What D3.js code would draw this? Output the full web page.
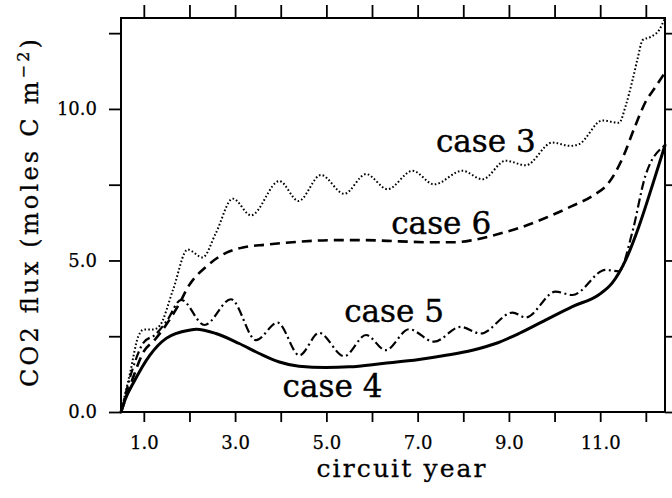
<!DOCTYPE html>
<html><head><meta charset="utf-8">
<script src="https://cdn.jsdelivr.net/npm/d3@7"></script>
<style>html,body{margin:0;padding:0;background:#fff;}svg{display:block;}</style>
</head><body>
<script>
// ---- data ----
const xTicks = [1,2,3,4,5,6,7,8,9,10,11,12];
const yTicks = [0,2.5,5,7.5,10,12.5];
const caseNames = ["case 3","case 6","case 5","case 4"];
const case3 = [[0.5,0],[0.7,1.3],[0.88,2.5],[1.0,2.72],[1.2,2.72],[1.35,2.85],[1.64,4.03],[1.96,5.36],[2.29,5.10],[2.58,5.91],[2.95,7.04],[3.35,6.49],[3.97,7.62],[4.39,6.96],[4.88,7.82],[5.39,7.20],[5.87,7.85],[6.34,7.35],[6.89,7.96],[7.36,7.51],[7.98,7.96],[8.42,7.68],[8.93,8.29],[9.37,8.14],[9.95,8.89],[10.35,8.78],[10.54,8.84],[11.05,9.62],[11.41,9.54],[11.56,10.11],[11.7,10.9],[11.82,11.66],[11.93,12.27],[12.11,12.38],[12.29,12.6],[12.42,13.0]];
const case6 = [[0.5,0],[0.72,0.95],[1.0,2.0],[1.25,2.4],[1.5,2.9],[1.75,3.5],[2.0,4.2],[2.37,4.8],[2.8,5.25],[3.17,5.43],[3.68,5.52],[4.41,5.62],[5.14,5.67],[5.87,5.67],[6.6,5.63],[7.3,5.6],[7.8,5.6],[8.2,5.67],[8.71,5.85],[9.22,6.07],[9.81,6.41],[10.39,6.8],[10.83,7.13],[11.19,7.57],[11.48,8.34],[11.77,9.45],[11.99,10.22],[12.2,10.7],[12.42,11.2]];
const case5 = [[0.5,0],[0.75,1.4],[1.0,2.3],[1.25,2.55],[1.5,3.0],[1.82,3.7],[2.33,2.87],[2.91,3.72],[3.46,2.37],[3.93,2.95],[4.41,1.87],[4.84,2.61],[5.39,1.84],[5.87,2.54],[6.3,2.04],[6.81,2.73],[7.36,2.32],[7.94,2.81],[8.38,2.59],[9.08,3.28],[9.37,3.12],[10.02,3.97],[10.39,3.86],[11.12,4.69],[11.41,4.64],[11.7,5.91],[11.99,7.79],[12.42,8.8]];
const case4 = [[0.5,0],[0.6,0.45],[0.76,0.93],[1.13,1.87],[1.49,2.43],[2.0,2.7],[2.15,2.73],[2.58,2.59],[3.09,2.26],[3.53,1.93],[3.97,1.65],[4.4,1.51],[4.99,1.47],[5.5,1.49],[6.23,1.6],[7.03,1.73],[7.62,1.87],[8.2,2.04],[8.71,2.26],[9.22,2.59],[9.81,3.04],[10.39,3.48],[10.97,3.87],[11.26,4.25],[11.56,5.02],[11.85,6.13],[12.14,7.46],[12.42,8.8]];
const labelAt = [[7.40,8.58],[6.42,5.86],[5.39,2.97],[4.04,0.51]];

const W = 672, H = 498;
const svg = d3.select("body").append("svg").attr("width", W).attr("height", H);
const x = d3.scaleLinear([0.5, 12.42], [121, 665]);
const y = d3.scaleLinear([0, 13], [412, 18]);
const FONT = "'DejaVu Serif', serif";

// axes
const fmt = d => (Math.round(d) % 2 === 1 ? d.toFixed(1) : "");
const gB = svg.append("g").attr("transform", `translate(0,${y(0)})`)
  .call(d3.axisBottom(x).tickValues(xTicks).tickSize(10).tickPadding(14).tickFormat(fmt));
const gT = svg.append("g").attr("transform", `translate(0,${y(13)})`)
  .call(d3.axisTop(x).tickValues(xTicks).tickSize(13).tickFormat(""));
const gL = svg.append("g").attr("transform", `translate(${x(0.5)},0)`)
  .call(d3.axisLeft(y).tickValues(yTicks).tickSize(12).tickPadding(12)
    .tickFormat(d => (d % 5 === 0 ? d.toFixed(1) : "")));
const gR = svg.append("g").attr("transform", `translate(${x(12.42)},0)`)
  .call(d3.axisRight(y).tickValues(yTicks).tickSize(12).tickFormat(""));
[gB, gT, gL, gR].forEach(g => {
  g.select(".domain").remove();
  g.selectAll(".tick line").attr("stroke", "#000").attr("stroke-width", 1.8);
  g.selectAll("text").attr("font-family", FONT).attr("font-size", 18).attr("fill", "#000")
    .attr("stroke", "#000").attr("stroke-width", 0.25);
});

// frame
svg.append("rect").attr("x", x(0.5)).attr("y", y(13))
  .attr("width", x(12.42) - x(0.5)).attr("height", y(0) - y(13))
  .attr("fill", "none").attr("stroke", "#000").attr("stroke-width", 2);

// lines
const line = d3.line().x(d => x(d[0])).y(d => y(d[1])).curve(d3.curveMonotoneX);
const series = [
  {data: case3, w: 2.0, dash: "1.6,2.2", cap: "butt"},
  {data: case6, w: 2.6, dash: "10,6", cap: "butt"},
  {data: case5, w: 2.2, dash: "9,3.5,2,3.5", cap: "butt"},
  {data: case4, w: 3.0, dash: null, cap: "round"}
];
series.forEach(s => {
  svg.append("path").attr("d", line(s.data)).attr("fill", "none")
    .attr("stroke", "#000").attr("stroke-width", s.w)
    .attr("stroke-dasharray", s.dash).attr("stroke-linecap", s.cap)
    .attr("stroke-linejoin", "round");
});

// case labels
caseNames.forEach((n, i) => {
  svg.append("text").attr("x", x(labelAt[i][0])).attr("y", y(labelAt[i][1]))
    .attr("font-family", FONT).attr("font-size", 32).attr("fill", "#000")
    .attr("stroke", "#000").attr("stroke-width", 0.4)
    .attr("textLength", 100).attr("lengthAdjust", "spacingAndGlyphs")
    .text(n);
});

// axis titles
svg.append("text").attr("x", (x(0.5) + x(12.42)) / 2 + 8).attr("y", 477)
  .attr("text-anchor", "middle").attr("font-family", FONT).attr("font-size", 25)
  .attr("stroke", "#000").attr("stroke-width", 0.3)
  .attr("textLength", 169).attr("lengthAdjust", "spacing")
  .text("circuit year");

const yt = svg.append("text")
  .attr("transform", `translate(38,${y(6.5) - 2}) rotate(-90)`)
  .attr("text-anchor", "middle").attr("font-family", FONT).attr("font-size", 24)
  .attr("stroke", "#000").attr("stroke-width", 0.3)
  .attr("textLength", 348).attr("lengthAdjust", "spacing");
yt.append("tspan").text("CO2 flux (moles C m");
yt.append("tspan").attr("dy", -9).attr("font-size", 16).text("\u22122");
yt.append("tspan").attr("dy", 9).text(")");
</script>
</body></html>
